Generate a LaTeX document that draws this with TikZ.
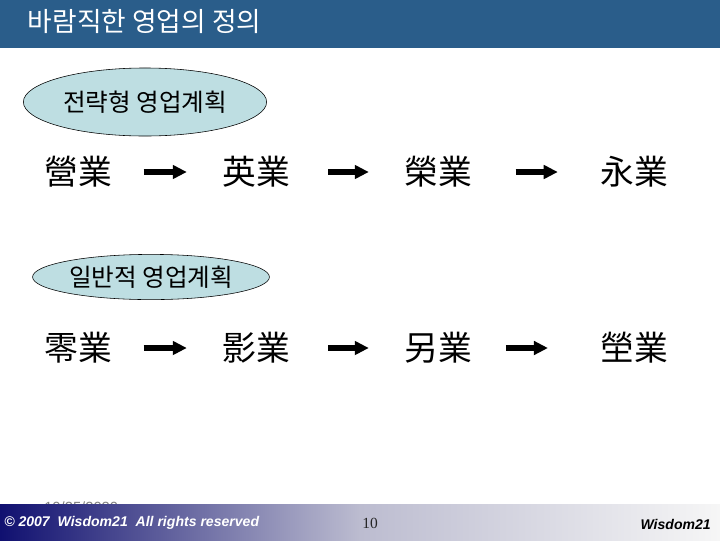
\documentclass[tikz,border=0pt]{standalone}
\usepackage{fontspec}
\setmainfont{Liberation Sans}
\newfontfamily\krfont{Noto Sans CJK KR}
\newfontfamily\numfont{Liberation Serif}
\usetikzlibrary{shapes.geometric,arrows.meta}
\definecolor{titleblue}{RGB}{42,93,138}
\definecolor{ovalfill}{RGB}{190,222,226}
\definecolor{footnavy}{RGB}{16,16,112}
\definecolor{footmid}{RGB}{188,188,208}
\definecolor{footend}{RGB}{246,246,246}
\begin{document}
\begin{tikzpicture}[x=0.025cm,y=-0.025cm,
  oval/.style={ellipse,draw,fill=ovalfill,inner sep=0pt,font=\krfont\fontsize{17.5}{20}\selectfont},
  word/.style={inner sep=0pt,font=\krfont\fontsize{24}{28}\selectfont},
  bigarrow/.style={-{Triangle[length=10pt,width=9.5pt]},line width=4.2pt}]
  \useasboundingbox (0,0) rectangle (720,540);
  % title bar
  \fill[titleblue] (0,0) rectangle (720,48);
  \node[anchor=west,text=white,font=\krfont\fontsize{19}{21}\selectfont] (title) at (23,22) {바람직한 영업의 정의};
  % strategic row
  \node[oval,minimum width=6.08cm,minimum height=1.7cm] (plan1) at (145,102) {전략형 영업계획};
  \node[word] (w11) at (78,172) {營業};
  \node[word] (w12) at (256,172) {英業};
  \node[word] (w13) at (438,172) {榮業};
  \node[word] (w14) at (634,172) {永業};
  \draw[bigarrow,shorten <=22.5pt,shorten >=25pt] (w11) -- (w12);
  \draw[bigarrow,shorten <=27pt,shorten >=25pt] (w12) -- (w13);
  \draw[bigarrow,shorten <=31pt,shorten >=30pt] (w13) -- (w14);
  % general row
  \node[oval,minimum width=5.92cm,minimum height=1.13cm] (plan2) at (151,277) {일반적 영업계획};
  \node[word] (w21) at (78,348) {零業};
  \node[word] (w22) at (256,348) {影業};
  \node[word] (w23) at (438,348) {另業};
  \node[word] (w24) at (634,348) {塋業};
  \draw[bigarrow,shorten <=22.5pt,shorten >=25pt] (w21) -- (w22);
  \draw[bigarrow,shorten <=27pt,shorten >=25pt] (w22) -- (w23);
  \draw[bigarrow,shorten <=24pt,shorten >=37pt] (w23) -- (w24);
  % footer
  \node[anchor=base west,inner sep=0pt,text=gray,font=\fontsize{10.5}{12}\selectfont] (date) at (44,512) {10/25/2020};
  \shade[left color=footnavy,right color=footmid] (0,504) rectangle (360,540);
  \shade[left color=footmid,right color=footend] (360,504) rectangle (720,540);
  \node[anchor=west,inner sep=0pt,text=white,font=\bfseries\itshape\fontsize{10}{12}\selectfont] (copy) at (4,523) {© 2007 \ Wisdom21 \ All rights reserved};
  \node[inner sep=0pt,text=black!85,font=\numfont\fontsize{11}{13}\selectfont] (page) at (370,523) {10};
  \node[anchor=east,inner sep=0pt,font=\bfseries\itshape\fontsize{10}{12}\selectfont] (brand) at (711,524) {Wisdom21};
\end{tikzpicture}
\end{document}
